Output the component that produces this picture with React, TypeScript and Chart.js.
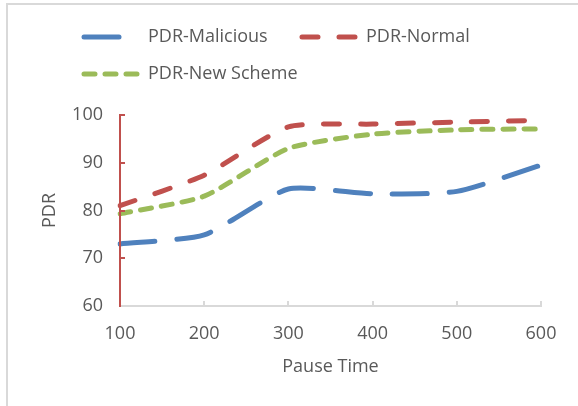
import React, { useEffect, useRef } from "react";
import { Chart, registerables } from "chart.js";

Chart.register(...registerables);

const categories = ["100", "200", "300", "400", "500", "600"];
const malicious = [73, 74.9, 84.5, 83.5, 84, 89.5];
const normal = [81, 87.4, 97.5, 98.1, 98.5, 98.9];
const newScheme = [79.3, 83, 93, 96, 96.9, 97.1];
const seriesNames = ["PDR-Malicious", "PDR-Normal", "PDR-New Scheme"];
const yTicks = [60, 70, 80, 90, 100];

const BLUE = "#4F81BD";
const RED = "#C0504D";
const GREEN = "#9BBB59";
const TEXT = "#595959";
const AXIS_GRAY = "#D9D9D9";
const FONT = "'Open Sans', sans-serif";
const FS = 18;

const dashes = [[35, 22], [16, 21], [11, 10]];
const colors = [BLUE, RED, GREEN];

const legendPlugin = {
  id: "customLegend",
  afterDraw(chart: any) {
    const ctx = chart.ctx;
    const items = [
      { x1: 84, x2: 121, y: 37, tx: 148, i: 0 },
      { x1: 302, x2: 356, y: 37, tx: 366, i: 1 },
      { x1: 84, x2: 138, y: 74, tx: 148, i: 2 },
    ];
    ctx.save();
    for (const it of items) {
      ctx.beginPath();
      ctx.strokeStyle = colors[it.i];
      ctx.lineWidth = 5;
      ctx.lineCap = "round";
      ctx.setLineDash(dashes[it.i]);
      ctx.moveTo(it.x1, it.y);
      ctx.lineTo(it.x2, it.y);
      ctx.stroke();
      ctx.setLineDash([]);
      ctx.fillStyle = TEXT;
      ctx.font = `${FS}px ${FONT}`;
      ctx.textBaseline = "middle";
      ctx.textAlign = "left";
      ctx.fillText(seriesNames[it.i], it.tx, it.y);
    }
    ctx.restore();
  },
};

const tickMarksPlugin = {
  id: "insideTicks",
  afterDatasetsDraw(chart: any) {
    const ctx = chart.ctx;
    const { left, bottom } = chart.chartArea;
    const ys = chart.scales.y;
    const xs = chart.scales.x;
    ctx.save();
    ctx.lineWidth = 2;
    ctx.strokeStyle = RED;
    for (const v of yTicks) {
      if (v === yTicks[0]) continue;
      const py = Math.round(ys.getPixelForValue(v));
      ctx.beginPath();
      ctx.moveTo(left, py);
      ctx.lineTo(left + 5, py);
      ctx.stroke();
    }
    ctx.strokeStyle = AXIS_GRAY;
    for (let i = 1; i < categories.length; i++) {
      const px = Math.round(xs.getPixelForValue(i));
      ctx.beginPath();
      ctx.moveTo(px, bottom);
      ctx.lineTo(px, bottom - 5);
      ctx.stroke();
    }
    ctx.restore();
  },
};

export default function App() {
  const ref = useRef<HTMLCanvasElement>(null);
  useEffect(() => {
    if (!ref.current) return;
    const mk = (label: string, data: number[], i: number) => ({
      label,
      data,
      borderColor: colors[i],
      backgroundColor: colors[i],
      borderWidth: 5,
      borderDash: dashes[i],
      borderCapStyle: "round" as const,
      pointRadius: 0,
      tension: 0.2,
      fill: false,
    });
    const chart = new Chart(ref.current, {
      type: "line",
      data: {
        labels: categories,
        datasets: [
          mk(seriesNames[0], malicious, 0),
          mk(seriesNames[1], normal, 1),
          mk(seriesNames[2], newScheme, 2),
        ],
      },
      options: {
        responsive: false,
        animation: false,
        layout: { padding: { top: 115, right: 37, left: 0, bottom: 0 } },
        plugins: { legend: { display: false }, tooltip: { enabled: false } },
        scales: {
          x: {
            offset: false,
            grid: { display: true, drawOnChartArea: false, drawTicks: false },
            border: { display: true, color: AXIS_GRAY, width: 2 },
            ticks: { color: TEXT, font: { family: FONT, size: FS }, padding: 17, maxRotation: 0 },
            title: {
              display: true,
              text: "Pause Time",
              color: TEXT,
              font: { family: FONT, size: FS },
              padding: { top: 0, bottom: 28 },
            },
            afterFit(scale: any) {
              scale.height = 100;
            },
          },
          y: {
            min: 60,
            max: 100,
            grid: { display: true, drawOnChartArea: false, drawTicks: false },
            border: { display: true, color: RED, width: 2, z: 1 },
            ticks: {
              stepSize: 10,
              color: TEXT,
              font: { family: FONT, size: FS },
              padding: 17,
            },
            title: {
              display: true,
              text: "PDR",
              color: TEXT,
              font: { family: FONT, size: FS },
              padding: { top: 39, bottom: 0 },
            },
            afterFit(scale: any) {
              scale.width = 120;
            },
          },
        },
      },
      plugins: [tickMarksPlugin, legendPlugin],
    });
    return () => chart.destroy();
  }, []);

  return (
    <div
      style={{
        position: "fixed",
        left: 0,
        top: 0,
        width: 578,
        height: 406,
        overflow: "hidden",
        background: "#fff",
      }}
    >
      <div
        style={{
          position: "absolute",
          left: 6,
          top: 3,
          width: 700,
          height: 600,
          borderLeft: `2px solid ${AXIS_GRAY}`,
          borderTop: `2px solid ${AXIS_GRAY}`,
          boxSizing: "border-box",
        }}
      />
      <canvas
        ref={ref}
        width={578}
        height={406}
        style={{ position: "absolute", left: 0, top: 0, width: 578, height: 406 }}
      />
    </div>
  );
}
